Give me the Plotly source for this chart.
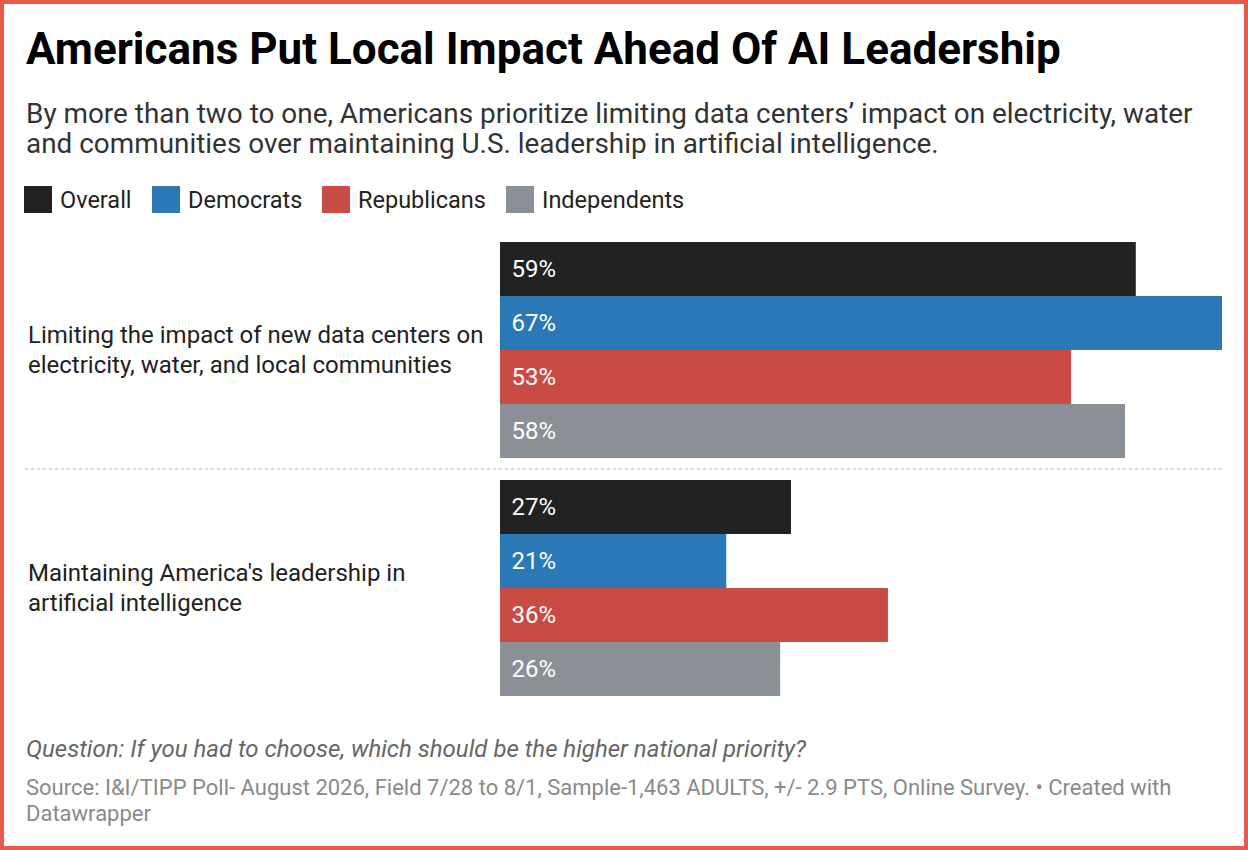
import plotly.graph_objects as go

# chart data
categories = [
    ["Limiting the impact of new data centers on", "electricity, water, and local communities"],
    ["Maintaining America's leadership in", "artificial intelligence"],
]
groups = ["Overall", "Democrats", "Republicans", "Independents"]
colors = ["#222222", "#2a78b5", "#c84b46", "#8b8f96"]
values = {
    "Overall": [59, 27],
    "Democrats": [67, 21],
    "Republicans": [53, 36],
    "Independents": [58, 26],
}

title = "Americans Put Local Impact Ahead Of AI Leadership"
subtitle = ["By more than two to one, Americans prioritize limiting data centers\u2019 impact on electricity, water",
            "and communities over maintaining U.S. leadership in artificial intelligence."]
question = "Question: If you had to choose, which should be the higher national priority?"
source = ["Source: I&I/TIPP Poll- August 2026, Field 7/28 to 8/1, Sample-1,463 ADULTS, +/- 2.9 PTS, "
          "Online Survey. \u2022 Created with", "Datawrapper"]

# page geometry (pixels)
W, H = 1248, 850
L, R, T, B = 500, 26, 242, 154
PW, PH = W - L - R, H - T - B
FONT = "Roboto"


def px(x):
    return (x - L) / PW


def py(y):
    return 1 - (y - T) / PH


def note(text, x, y, size, color, yref="paper", yshift=0):
    return dict(text=text, x=px(x), y=y if yref != "paper" else py(y), xref="paper", yref=yref,
                xanchor="left", yanchor="middle", align="left", showarrow=False, yshift=yshift,
                font=dict(family=FONT, size=size, color=color))


fig = go.Figure()
for g, c in zip(groups, colors):
    fig.add_trace(go.Bar(
        y=list(range(len(categories))),
        x=values[g],
        orientation="h",
        name=g,
        marker=dict(color=c, line=dict(width=0)),
        text=["\u00a0\u200a%d%%" % v for v in values[g]],
        textposition="inside",
        insidetextanchor="start",
        insidetextfont=dict(family=FONT, size=24, color="white"),
        hoverinfo="skip",
    ))

anns = []
shapes = []

anns.append(note("<b>" + title + "</b>", 24, 49, 44, "#000000"))
anns.append(note(subtitle[0], 24, 113, 27.9, "#333333"))
anns.append(note(subtitle[1], 24, 144, 27.9, "#333333"))

# legend drawn by hand (big square swatches)
legend_x = [24, 152, 322, 506]
for g, c, lx in zip(groups, colors, legend_x):
    shapes.append(dict(type="rect", xref="paper", yref="paper",
                       x0=px(lx), x1=px(lx + 28), y0=py(213), y1=py(186),
                       fillcolor=c, line=dict(width=0)))
    anns.append(note(g, lx + 34, 200, 23.5, "#222222"))

# category labels, left aligned, two lines each
for i, lines in enumerate(categories):
    anns.append(note(lines[0], 26, i, 24, "#222222", yref="y", yshift=15))
    anns.append(note(lines[1], 26, i, 24, "#222222", yref="y", yshift=-14.5))

# dotted separator between the two groups
shapes.append(dict(type="line", xref="paper", yref="y", x0=px(25), x1=1, y0=0.5, y1=0.5,
                   line=dict(color="#cccccc", width=1.5, dash="dot")))

anns.append(note("<i>" + question + "</i>", 24, 749, 24, "#666666"))
anns.append(note(source[0], 24, 787, 22, "#8a8a8a"))
anns.append(note(source[1], 24, 813, 22, "#8a8a8a"))

# red frame around the whole graphic
shapes.append(dict(type="rect", xref="paper", yref="paper",
                   x0=px(2), x1=px(W - 2), y0=py(H - 2), y1=py(2),
                   line=dict(color="#e8584c", width=4), fillcolor="rgba(0,0,0,0)"))

bargap = 22 / 238
half = (PH / 238) / 2
fig.update_layout(
    width=W, height=H,
    margin=dict(l=L, r=R, t=T, b=B),
    paper_bgcolor="white", plot_bgcolor="white",
    barmode="group", bargap=bargap, bargroupgap=0,
    showlegend=False,
    xaxis=dict(range=[0, max(values["Democrats"])], visible=False, fixedrange=True),
    yaxis=dict(range=[0.5 + half, 0.5 - half], visible=False, fixedrange=True),
    annotations=anns, shapes=shapes,
    font=dict(family=FONT),
)

fig.write_html("out.html", post_script="document.body.style.margin='0';",
               config={"displayModeBar": False})
